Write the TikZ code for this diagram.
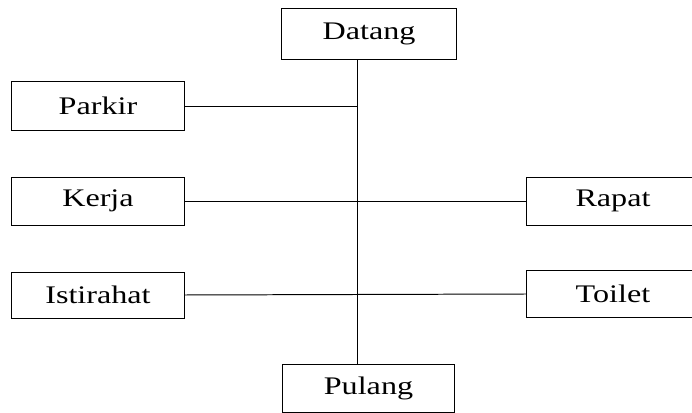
\documentclass[tikz,border=0pt]{standalone}
\usepackage{fontspec}
\setmainfont{Liberation Serif}
\newfontfamily\widefont[FakeStretch=1.27]{Liberation Serif}

\begin{document}
\begin{tikzpicture}[x=0.025cm, y=-0.025cm,
        every node/.style={font=\widefont\fontsize{18}{20}\selectfont},
        stepbox/.style={draw, line width=0.7pt, minimum width=4.3cm,
            minimum height=1.2cm, inner sep=0pt, align=center}]
      \clip (0,0) rectangle (692,413);
      % activity boxes
      \node[stepbox, minimum width=4.35cm, minimum height=1.25cm]
            (datang) at (369,34) {Datang};
      \node[stepbox] (parkir) at (98,106) {Parkir};
      \node[stepbox] (kerja) at (98,201) {Kerja};
      \node[stepbox, minimum height=1.15cm] (istirahat) at (98,295) {Istirahat};
      \node[stepbox] (rapat) at (613,201) {Rapat};
      \node[stepbox, minimum height=1.17cm] (toilet) at (613,294) {Toilet};
      \node[stepbox, minimum height=1.18cm] (pulang) at (368.5,388.5) {Pulang};
      % the main line runs a little left of the box centres
      \coordinate (trunk) at (357,0);
      \draw[line width=0.7pt] (datang.south -| trunk) -- (pulang.north -| trunk);
      \draw[line width=0.7pt] (parkir.east) -- (parkir.east -| trunk);
      \draw[line width=0.7pt] (kerja.east) -- (rapat.west);
      \draw[line width=0.7pt] (istirahat.east) -- (toilet.west);
\end{tikzpicture}
\end{document}
